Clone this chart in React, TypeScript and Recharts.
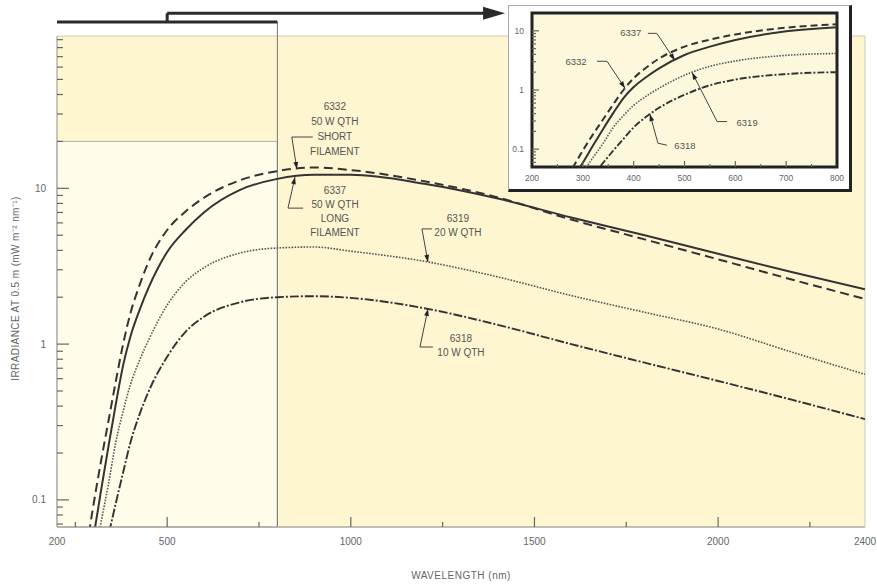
import React from 'react'
import { LineChart, Line, XAxis, YAxis, ReferenceArea, ReferenceLine, ReferenceDot } from 'recharts'

const FONT = "'Liberation Sans', Arial, sans-serif"

// wavelength grid (nm) and irradiance at 0.5 m (mW m-2 nm-1)
const wavelengths = [270, 280, 290, 300, 320, 340, 360, 380, 400, 425, 450, 500, 550, 600, 700, 800, 900, 1000, 1200, 1400, 1600, 1800, 2000, 2200, 2400]
const lamp6332 = [0.033, 0.048, 0.068, 0.095, 0.178, 0.32, 0.575, 1.0, 1.58, 2.4, 3.4, 5.4, 7.1, 8.7, 11.3, 12.9, 13.6, 13.1, 11.1, 8.75, 6.3, 4.7, 3.5, 2.6, 1.95]
const lamp6337 = [0.02, 0.03, 0.043, 0.059, 0.115, 0.22, 0.41, 0.73, 1.12, 1.66, 2.32, 3.9, 5.4, 7.0, 9.8, 11.5, 12.2, 12.2, 10.7, 8.6, 6.5, 5.0, 3.8, 2.9, 2.25]
const lamp6319 = [0.018, 0.023, 0.031, 0.041, 0.072, 0.126, 0.234, 0.37, 0.55, 0.79, 1.07, 1.78, 2.51, 3.09, 3.85, 4.14, 4.2, 3.95, 3.4, 2.7, 2.05, 1.6, 1.25, 0.89, 0.64]
const lamp6318 = [0.011, 0.014, 0.018, 0.022, 0.036, 0.059, 0.095, 0.15, 0.234, 0.355, 0.5, 0.83, 1.2, 1.5, 1.86, 2.0, 2.03, 1.98, 1.7, 1.33, 1.0, 0.76, 0.58, 0.44, 0.33]

const mainXTicks = [200, 250, 500, 750, 1000, 1250, 1500, 1750, 2000, 2250, 2400]
const mainXLabels = [200, 500, 1000, 1500, 2000, 2400]
const mainXMajor = [500, 1000, 1500, 2000]
const mainYTicks = [0.07, 0.08, 0.09, 0.1, 0.2, 0.3, 0.4, 0.5, 0.6, 0.7, 0.8, 0.9, 1, 2, 3, 4, 5, 6, 7, 8, 9, 10, 20, 30, 40, 50, 60, 70, 80, 90]
const yLabels = [0.1, 1, 10]

const insetXTicks = [200, 250, 300, 350, 400, 450, 500, 550, 600, 650, 700, 750, 800]
const insetXLabels = [200, 300, 400, 500, 600, 700, 800]
const insetXMajor = [300, 400, 500, 600, 700]
const insetYTicks = [0.06, 0.07, 0.08, 0.09, 0.1, 0.2, 0.3, 0.4, 0.5, 0.6, 0.7, 0.8, 0.9, 1, 2, 3, 4, 5, 6, 7, 8, 9, 10]

const data = wavelengths.map((w, i) => ({
  w,
  l6332: lamp6332[i],
  l6337: lamp6337[i],
  l6319: lamp6319[i],
  l6318: lamp6318[i],
}))

const series = [
  { key: 'l6332', dash: '9 5', insetDash: '7 4', width: 2, color: '#333' },
  { key: 'l6337', dash: undefined, insetDash: undefined, width: 2, color: '#333' },
  { key: 'l6319', dash: '1.6 1.4', insetDash: '1.5 1.4', width: 1.6, color: '#555' },
  { key: 'l6318', dash: '9 2 2 2', insetDash: '7 2 2 2', width: 1.9, color: '#333' },
]

// callouts: tip sits on a curve (x, y in data units), bends/text are pixel offsets from the tip
const mainCallouts = [
  { x: 853, y: 13.3, bends: [[-5, -32], [16, -32]], tx: 38, ty: -59, lh: 15, fs: 10, lines: ['6332', '50 W QTH', 'SHORT', 'FILAMENT'] },
  { x: 848, y: 11.8, bends: [[-7, 31], [8, 31]], tx: 40, ty: 17, lh: 14, fs: 10, lines: ['6337', '50 W QTH', 'LONG', 'FILAMENT'] },
  { x: 1210, y: 3.37, bends: [[-6, -33], [4, -33]], tx: 30, ty: -40, lh: 14, fs: 10, lines: ['6319', '20 W QTH'] },
  { x: 1210, y: 1.68, bends: [[-8, 38], [5, 38]], tx: 33, ty: 33, lh: 14, fs: 10, lines: ['6318', '10 W QTH'] },
]
const insetCallouts = [
  { x: 481, y: 3.17, bends: [[-18, -27], [-27, -27]], tx: -44, ty: -24, lh: 10, fs: 9.5, lines: ['6337'] },
  { x: 383, y: 1.07, bends: [[-18, -27], [-28, -27]], tx: -49, ty: -23, lh: 10, fs: 9.5, lines: ['6332'] },
  { x: 515, y: 1.97, bends: [[25, 49], [35, 49]], tx: 55, ty: 53, lh: 10, fs: 9.5, lines: ['6319'] },
  { x: 432, y: 0.39, bends: [[8, 29], [17, 31]], tx: 35, ty: 35, lh: 10, fs: 9.5, lines: ['6318'] },
]

const MAIN = { w: 877, h: 584, margin: { top: 36, right: 12, bottom: 0, left: 0 }, axisW: 57, axisH: 57 }
const INSET = { w: 340, h: 183, margin: { top: 7, right: 12, bottom: 0, left: 0 }, axisW: 23, axisH: 22 }

const Callout = ({ cx, cy, spec }: any) => {
  if (cx == null || cy == null) return null
  const pts = [[0, 0], ...spec.bends].map(([dx, dy]: number[]) => `${cx + dx},${cy + dy}`).join(' ')
  const [bx, by] = spec.bends[0]
  const a = Math.atan2(-by, -bx)
  const L = 7
  const W = 2.4
  const hx = cx - L * Math.cos(a)
  const hy = cy - L * Math.sin(a)
  const head = `${cx},${cy} ${hx - W * Math.sin(a)},${hy + W * Math.cos(a)} ${hx + W * Math.sin(a)},${hy - W * Math.cos(a)}`
  return (
    <g>
      <polyline points={pts} fill="none" stroke="#444" strokeWidth={1} />
      <polygon points={head} fill="#222" />
      {spec.lines.map((t: string, i: number) => (
        <text key={i} x={cx + spec.tx} y={cy + spec.ty + i * spec.lh} textAnchor="middle" fontSize={spec.fs} fill="#555" fontFamily={FONT}>
          {t}
        </text>
      ))}
    </g>
  )
}

const XTick = ({ x, y, payload, labels, major, fs, labelDy, majorLen, minorLen }: any) => {
  const v = payload.value
  const isLabel = labels.includes(v)
  const len = major.includes(v) ? majorLen : isLabel ? 0 : minorLen
  return (
    <g>
      {len > 0 && <path d={`M${x},${y}V${y - len}`} stroke="#666" strokeWidth={1.2} fill="none" />}
      {isLabel && (
        <text x={x} y={y + labelDy} textAnchor="middle" fontSize={fs} fill="#666" fontFamily={FONT}>
          {v}
        </text>
      )}
    </g>
  )
}

const YTick = ({ x, y, payload, fs, gap, majorLen, minorLen }: any) => {
  const v = payload.value
  const isLabel = yLabels.includes(v)
  return (
    <g>
      <path d={`M${x},${y}H${x + (isLabel ? majorLen : minorLen)}`} stroke="#666" strokeWidth={1.2} fill="none" />
      {isLabel && (
        <text x={x - gap} y={y} dy="0.35em" textAnchor="end" fontSize={fs} fill="#666" fontFamily={FONT}>
          {v}
        </text>
      )}
    </g>
  )
}

const YTitle = ({ viewBox }: any) => {
  const cx = viewBox.x + 19
  const cy = viewBox.y + viewBox.height / 2 + 7
  return (
    <text x={cx} y={cy} transform={`rotate(-90 ${cx} ${cy})`} textAnchor="middle" fontSize={10} letterSpacing={0.4} fill="#666" fontFamily={FONT}>
      IRRADIANCE AT 0.5 m (mW m⁻² nm⁻¹)
    </text>
  )
}

const XTitle = ({ viewBox }: any) => (
  <text x={viewBox.x + viewBox.width / 2} y={viewBox.y + 52} textAnchor="middle" fontSize={10} letterSpacing={0.5} fill="#666" fontFamily={FONT}>
    WAVELENGTH (nm)
  </text>
)

const ArrowHead = ({ cx, cy }: any) => (
  <polygon points={`${cx},${cy} ${cx - 22},${cy - 6.5} ${cx - 22},${cy + 6.5}`} fill="#2a2a2a" />
)

const layer: React.CSSProperties = { position: 'absolute', left: 0, top: 0 }

// background layer: same scales, hidden axes, so the shaded areas sit under the ticks
const MainBackground = () => (
  <div style={layer}>
    <LineChart
      width={MAIN.w}
      height={MAIN.h}
      data={data}
      margin={{ ...MAIN.margin, left: MAIN.margin.left + MAIN.axisW, bottom: MAIN.margin.bottom + MAIN.axisH }}
    >
      <XAxis dataKey="w" type="number" domain={[200, 2400]} allowDataOverflow hide />
      <YAxis type="number" scale="log" domain={[0.067, 95]} allowDataOverflow hide />
      <ReferenceArea x1={200} x2={2400} y1={0.067} y2={95} fill="#fdf6d0" fillOpacity={1} stroke="#cfcab4" ifOverflow="visible" />
      <ReferenceArea x1={200} x2={800} y1={0.067} y2={20} fill="#fffcea" fillOpacity={1} stroke="#b5b3a6" ifOverflow="visible" />
    </LineChart>
  </div>
)

const InsetBackground = () => (
  <div style={layer}>
    <LineChart
      width={INSET.w}
      height={INSET.h}
      data={data}
      margin={{ ...INSET.margin, left: INSET.margin.left + INSET.axisW, bottom: INSET.margin.bottom + INSET.axisH }}
    >
      <XAxis dataKey="w" type="number" domain={[200, 800]} allowDataOverflow hide />
      <YAxis type="number" scale="log" domain={[0.05, 20]} allowDataOverflow hide />
      <ReferenceArea x1={200} x2={800} y1={0.05} y2={20} fill="#fdf8dc" fillOpacity={1} stroke="none" ifOverflow="visible" />
    </LineChart>
  </div>
)

const Inset = () => (
  <div
    style={{
      position: 'absolute',
      left: 508,
      top: 5,
      width: INSET.w,
      height: INSET.h,
      background: '#fff',
      borderTop: '1px solid #aaa',
      borderLeft: '1px solid #aaa',
      borderRight: '3px solid #222',
      borderBottom: '3px solid #222',
    }}
  >
    <InsetBackground />
    <div style={layer}>
      <LineChart width={INSET.w} height={INSET.h} data={data} margin={INSET.margin}>
        <XAxis
          dataKey="w"
          type="number"
          domain={[200, 800]}
          ticks={insetXTicks}
          interval={0}
          allowDataOverflow
          height={INSET.axisH}
          tickSize={0}
          tickMargin={0}
          axisLine={false}
          tickLine={false}
          tick={(p: any) => <XTick {...p} labels={insetXLabels} major={insetXMajor} fs={8.5} labelDy={14} majorLen={6} minorLen={3} />}
        />
        <YAxis
          type="number"
          scale="log"
          domain={[0.05, 20]}
          ticks={insetYTicks}
          interval={0}
          allowDataOverflow
          width={INSET.axisW}
          tickSize={0}
          tickMargin={0}
          axisLine={false}
          tickLine={false}
          tick={(p: any) => <YTick {...p} fs={8.5} gap={8} majorLen={7} minorLen={4} />}
        />
        {series.map(s => (
          <Line
            key={s.key}
            dataKey={s.key}
            type="monotone"
            stroke={s.color}
            strokeWidth={s.width}
            strokeDasharray={s.insetDash}
            dot={false}
            activeDot={false}
            isAnimationActive={false}
          />
        ))}
        <ReferenceArea x1={200} x2={800} y1={0.05} y2={20} fill="none" fillOpacity={0} stroke="#222" strokeWidth={3} ifOverflow="visible" />
        {insetCallouts.map((c, i) => (
          <ReferenceDot key={i} x={c.x} y={c.y} r={0} ifOverflow="visible" shape={(p: any) => <Callout {...p} spec={c} />} />
        ))}
      </LineChart>
    </div>
  </div>
)

export default function App() {
  return (
    <div style={{ position: 'absolute', left: 0, top: 0, width: MAIN.w, height: MAIN.h, background: '#fff' }}>
      <MainBackground />
      <div style={layer}>
        <LineChart width={MAIN.w} height={MAIN.h} data={data} margin={MAIN.margin}>
          <XAxis
            dataKey="w"
            type="number"
            domain={[200, 2400]}
            ticks={mainXTicks}
            interval={0}
            allowDataOverflow
            height={MAIN.axisH}
            tickSize={0}
            tickMargin={0}
            axisLine={{ stroke: '#999' }}
            tickLine={false}
            tick={(p: any) => <XTick {...p} labels={mainXLabels} major={mainXMajor} fs={10} labelDy={18} majorLen={10} minorLen={5} />}
            label={<XTitle />}
          />
          <YAxis
            type="number"
            scale="log"
            domain={[0.067, 95]}
            ticks={mainYTicks}
            interval={0}
            allowDataOverflow
            width={MAIN.axisW}
            tickSize={0}
            tickMargin={0}
            axisLine={{ stroke: '#aaa' }}
            tickLine={false}
            tick={(p: any) => <YTick {...p} fs={10} gap={11} majorLen={12} minorLen={6} />}
            label={<YTitle />}
          />
          <ReferenceLine segment={[{ x: 800, y: 0.067 }, { x: 800, y: 117 }]} stroke="#777" strokeWidth={1} ifOverflow="visible" />
          <ReferenceLine segment={[{ x: 200, y: 117 }, { x: 800, y: 117 }]} stroke="#2a2a2a" strokeWidth={3} ifOverflow="visible" />
          <ReferenceLine segment={[{ x: 500, y: 117 }, { x: 500, y: 133 }]} stroke="#2a2a2a" strokeWidth={3} ifOverflow="visible" />
          <ReferenceLine segment={[{ x: 500, y: 133 }, { x: 1380, y: 133 }]} stroke="#2a2a2a" strokeWidth={3} ifOverflow="visible" />
          <ReferenceDot x={1420} y={133} r={0} ifOverflow="visible" shape={(p: any) => <ArrowHead {...p} />} />
          {series.map(s => (
            <Line
              key={s.key}
              dataKey={s.key}
              type="monotone"
              stroke={s.color}
              strokeWidth={s.width}
              strokeDasharray={s.dash}
              dot={false}
              activeDot={false}
              isAnimationActive={false}
            />
          ))}
          {mainCallouts.map((c, i) => (
            <ReferenceDot key={i} x={c.x} y={c.y} r={0} ifOverflow="visible" shape={(p: any) => <Callout {...p} spec={c} />} />
          ))}
        </LineChart>
      </div>
      <Inset />
    </div>
  )
}
